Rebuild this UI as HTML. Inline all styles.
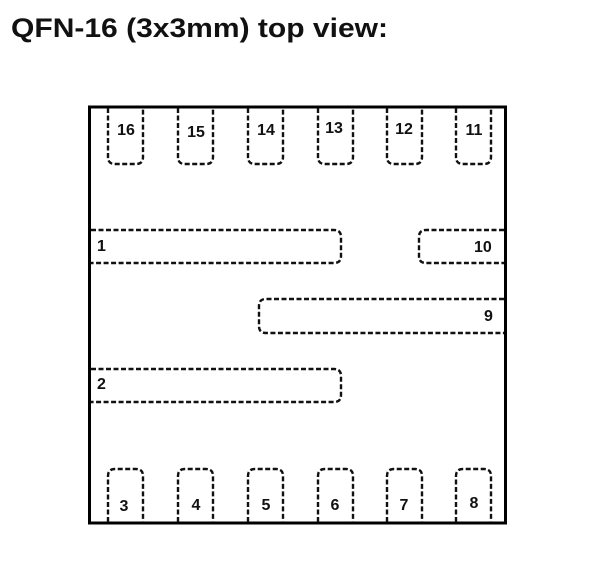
<!DOCTYPE html>
<html><head><meta charset="utf-8"><style>
html,body{margin:0;padding:0;background:#fff;}
svg{display:block;}
text{font-family:"Liberation Sans",Arial,sans-serif;font-weight:bold;fill:#111;}
</style></head><body>
<svg width="600" height="588" viewBox="0 0 600 588" xmlns="http://www.w3.org/2000/svg">
<text x="11" y="37" font-size="26.5" textLength="377" lengthAdjust="spacingAndGlyphs">QFN-16 (3x3mm) top view:</text>
<rect x="89.5" y="107" width="416" height="416" fill="none" stroke="#000" stroke-width="3"/>
<g fill="none" stroke="#111" stroke-width="2.4" stroke-dasharray="5,2.5">
<path d="M108 108 V157 Q108 164 115 164 H136 Q143 164 143 157 V108"/>
<path d="M178 108 V157 Q178 164 185 164 H206 Q213 164 213 157 V108"/>
<path d="M248 108 V157 Q248 164 255 164 H276 Q283 164 283 157 V108"/>
<path d="M318 108 V157 Q318 164 325 164 H346 Q353 164 353 157 V108"/>
<path d="M387 108 V157 Q387 164 394 164 H415 Q422 164 422 157 V108"/>
<path d="M456 108 V157 Q456 164 463 164 H484 Q491 164 491 157 V108"/>
<path d="M108 522 V476 Q108 469 115 469 H136 Q143 469 143 476 V522"/>
<path d="M178 522 V476 Q178 469 185 469 H206 Q213 469 213 476 V522"/>
<path d="M248 522 V476 Q248 469 255 469 H276 Q283 469 283 476 V522"/>
<path d="M318 522 V476 Q318 469 325 469 H346 Q353 469 353 476 V522"/>
<path d="M387 522 V476 Q387 469 394 469 H415 Q422 469 422 476 V522"/>
<path d="M456 522 V476 Q456 469 463 469 H484 Q491 469 491 476 V522"/>
<path d="M91 230 H334 Q341 230 341 237 V256 Q341 263 334 263 H91"/>
<path d="M504 230 H426 Q419 230 419 237 V256 Q419 263 426 263 H504"/>
<path d="M504 299 H266 Q259 299 259 306 V326 Q259 333 266 333 H504"/>
<path d="M91 369 H334 Q341 369 341 376 V395 Q341 402 334 402 H91"/>
</g>
<g font-size="16" text-anchor="middle">
<text x="126" y="135">16</text><text x="196" y="137">15</text><text x="266" y="135">14</text>
<text x="334" y="133">13</text><text x="404" y="134">12</text><text x="474" y="135">11</text>
<text x="124" y="511">3</text><text x="196" y="510">4</text><text x="266" y="510">5</text>
<text x="335" y="510">6</text><text x="404" y="510">7</text><text x="474" y="508">8</text>
</g>
<g font-size="16">
<text x="97" y="251">1</text><text x="97" y="389">2</text>
<text x="474" y="252">10</text><text x="484" y="321">9</text>
</g>
</svg>
</body></html>
